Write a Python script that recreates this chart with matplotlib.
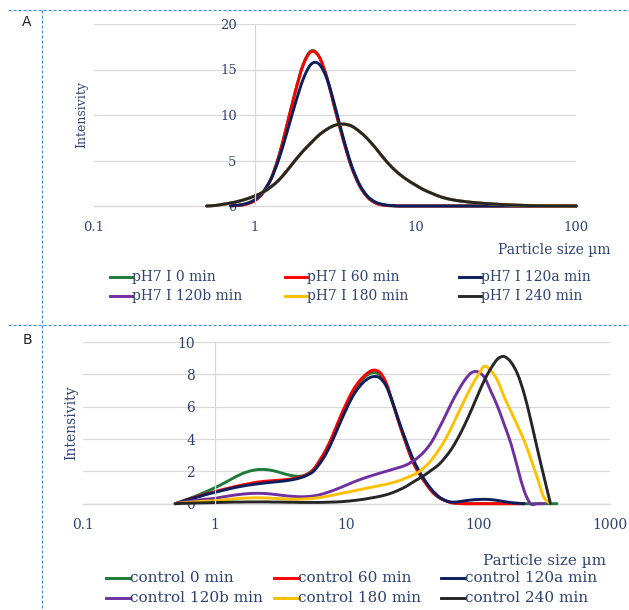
import numpy as np
import matplotlib.pyplot as plt
from matplotlib.lines import Line2D
from matplotlib.path import Path
from matplotlib.patches import PathPatch

plt.rcParams['font.family'] = ['DejaVu Serif']

nan = np.nan

# ---- panel A: pH7 I ----
# particle size bins (µm)
size_a = [0.501, 0.562, 0.631, 0.708, 0.794, 0.891, 1.00, 1.12, 1.26, 1.41,
          1.58, 1.78, 2.00, 2.24, 2.51, 2.82, 3.16, 3.55, 3.98, 4.47,
          5.01, 5.62, 6.31, 7.08, 7.94, 8.91, 10.0, 11.2, 12.6, 14.1,
          15.8, 17.8, 20.0, 22.4, 25.1, 28.2, 31.6, 35.5, 39.8, 44.7,
          50.1, 56.2, 63.1, 70.8, 79.4, 89.1, 100]

ph7_0 = [nan, nan, nan, 0.02, 0.07, 0.23, 0.6, 1.43, 3.0, 5.48,
         8.83, 12.5, 15.58, 17.05, 16.45, 14.0, 10.55, 7.25, 4.35, 2.25,
         0.98, 0.34, 0.1, 0.03, 0, 0, 0, 0, 0, 0,
         0, 0, 0, 0, 0, 0, 0, 0, 0, 0,
         0, 0, 0, 0, 0, 0, 0]
ph7_60 = [nan, nan, nan, 0.02, 0.07, 0.22, 0.59, 1.41, 2.96, 5.43,
          8.77, 12.43, 15.49, 16.96, 16.4, 14.0, 10.6, 7.3, 4.4, 2.3,
          1.0, 0.35, 0.1, 0.03, 0, 0, 0, 0, 0, 0,
          0, 0, 0, 0, 0, 0, 0, 0, 0, 0,
          0, 0, 0, 0, 0, 0, 0]
ph7_120a = [nan, nan, nan, 0.03, 0.1, 0.29, 0.69, 1.51, 2.94, 5.13,
            8.0, 11.17, 13.94, 15.58, 15.6, 13.9, 10.9, 7.5, 4.55, 2.4,
            1.1, 0.44, 0.16, 0.05, 0, 0, 0, 0, 0, 0,
            0, 0, 0, 0, 0, 0, 0, 0, 0, 0,
            0, 0, 0, 0, 0, 0, 0]
ph7_120b = [0.0, 0.05, 0.18, 0.33, 0.52, 0.78, 1.1, 1.5, 2.1, 2.85,
            3.85, 5.0, 6.05, 6.95, 7.8, 8.45, 8.88, 9.0, 8.8, 8.2,
            7.4, 6.4, 5.3, 4.3, 3.5, 2.85, 2.3, 1.8, 1.4, 1.05,
            0.8, 0.62, 0.5, 0.4, 0.32, 0.26, 0.2, 0.15, 0.11, 0.08,
            0.05, 0.03, 0.02, 0.01, 0.01, 0.0, 0.0]
ph7_180 = list(ph7_120b)
ph7_240 = list(ph7_120b)

labels_a = ['pH7 I 0 min', 'pH7 I 60 min', 'pH7 I 120a min',
            'pH7 I 120b min', 'pH7 I 180 min', 'pH7 I 240 min']

# ---- panel B: control ----
size_b = [0.501, 0.562, 0.631, 0.708, 0.794, 0.891, 1.00, 1.12, 1.26, 1.41,
          1.58, 1.78, 2.00, 2.24, 2.51, 2.82, 3.16, 3.55, 3.98, 4.47,
          5.01, 5.62, 6.31, 7.08, 7.94, 8.91, 10.0, 11.2, 12.6, 14.1,
          15.8, 17.8, 20.0, 22.4, 25.1, 28.2, 31.6, 35.5, 39.8, 44.7,
          50.1, 56.2, 63.1, 70.8, 79.4, 89.1, 100, 112, 126, 141,
          158, 178, 200, 224, 251, 282, 316, 355, 398, 447]

control_0 = [0, 0.15, 0.3, 0.45, 0.62, 0.8, 0.98, 1.18, 1.4, 1.62,
             1.82, 1.98, 2.08, 2.12, 2.1, 2.03, 1.92, 1.8, 1.72, 1.7,
             1.82, 2.12, 2.7, 3.4, 4.25, 5.2, 6.1, 6.9, 7.5, 7.9,
             8.1, 8.0, 7.4, 6.25, 5.0, 3.8, 2.7, 1.9, 1.3, 0.75,
             0.4, 0.2, 0.06, 0.02, 0, 0, 0, 0, 0, 0,
             0, 0, 0, 0, 0, 0, 0, 0, 0, nan]
control_60 = [0, 0.13, 0.27, 0.4, 0.52, 0.63, 0.74, 0.85, 0.95, 1.05,
              1.14, 1.22, 1.3, 1.36, 1.4, 1.43, 1.46, 1.5, 1.56, 1.65,
              1.8, 2.1, 2.7, 3.4, 4.3, 5.3, 6.2, 7.0, 7.6, 8.0,
              8.25, 8.15, 7.5, 6.3, 5.0, 3.8, 2.7, 1.9, 1.3, 0.75,
              0.4, 0.2, 0.06, 0.02, 0, 0, 0, 0, 0, 0,
              0, 0, 0, 0, nan, nan, nan, nan, nan, nan]
control_120a = [0, 0.12, 0.25, 0.37, 0.48, 0.6, 0.7, 0.8, 0.9, 0.99,
                1.07, 1.14, 1.2, 1.25, 1.3, 1.34, 1.38, 1.43, 1.5, 1.6,
                1.75, 2.0, 2.5, 3.15, 4.0, 4.95, 5.85, 6.65, 7.25, 7.65,
                7.85, 7.8, 7.3, 6.3, 5.1, 3.95, 2.9, 2.05, 1.4, 0.85,
                0.45, 0.2, 0.1, 0.12, 0.18, 0.23, 0.26, 0.27, 0.25, 0.2,
                0.13, 0.07, 0.03, 0.0, nan, nan, nan, nan, nan, nan]
control_120b = [0, 0.08, 0.15, 0.2, 0.25, 0.29, 0.33, 0.4, 0.47, 0.53,
                0.58, 0.62, 0.64, 0.64, 0.62, 0.58, 0.53, 0.48, 0.45, 0.43,
                0.44, 0.48, 0.56, 0.68, 0.82, 0.98, 1.15, 1.32, 1.48, 1.62,
                1.75, 1.88, 2.0, 2.12, 2.24, 2.38, 2.6, 2.9, 3.3, 3.85,
                4.6, 5.4, 6.25, 7.0, 7.65, 8.1, 8.15, 7.8, 6.9, 6.0,
                4.9, 3.7, 2.2, 0.8, 0.0, 0.0, 0.0, nan, nan, nan]
control_180 = [0, 0.05, 0.08, 0.11, 0.14, 0.16, 0.18, 0.22, 0.26, 0.3,
               0.33, 0.35, 0.36, 0.36, 0.35, 0.33, 0.31, 0.29, 0.28, 0.28,
               0.3, 0.33, 0.38, 0.45, 0.53, 0.62, 0.7, 0.78, 0.87, 0.95,
               1.03, 1.12, 1.2, 1.3, 1.42, 1.58, 1.75, 1.97, 2.3, 2.75,
               3.3, 3.95, 4.75, 5.6, 6.45, 7.25, 7.95, 8.5, 8.2, 7.6,
               6.6, 5.7, 4.8, 3.9, 2.8, 1.6, 0.4, 0.0, nan, nan]
control_240 = [0, 0.02, 0.03, 0.04, 0.05, 0.06, 0.07, 0.08, 0.09, 0.1,
               0.1, 0.11, 0.11, 0.11, 0.11, 0.1, 0.1, 0.09, 0.09, 0.08,
               0.08, 0.08, 0.08, 0.09, 0.1, 0.12, 0.15, 0.19, 0.24, 0.3,
               0.37, 0.45, 0.55, 0.68, 0.85, 1.05, 1.3, 1.55, 1.8, 2.1,
               2.4, 2.85, 3.4, 4.1, 4.9, 5.8, 6.75, 7.65, 8.4, 8.95,
               9.1, 8.75, 8.0, 6.8, 5.2, 3.4, 1.7, 0.0, nan, nan]

labels_b = ['control 0 min', 'control 60 min', 'control 120a min',
            'control 120b min', 'control 180 min', 'control 240 min']

colors = ['#1E7A3A', '#FF0000', '#0B1F5C', '#7030A0', '#FFC000', '#262626']
text_color = '#2F4373'
grid_color = '#D9D9D9'

W, H = 629, 610
fig = plt.figure(figsize=(W / 100, H / 100), dpi=100)


def px(x, y):
    return x / W, 1 - y / H


def smooth_line(ax, xs, ys, color, lw=2.1):
    # Excel-style smoothed line: Catmull-Rom bezier in (log x, y) space
    u = np.log10(np.asarray(xs, float))
    y = np.asarray(ys, float)
    ok = ~np.isnan(y)
    pts = np.column_stack([u[ok], y[ok]])
    n = len(pts)
    verts = [pts[0]]
    codes = [Path.MOVETO]
    for i in range(n - 1):
        p0 = pts[i - 1] if i > 0 else pts[i]
        p1, p2 = pts[i], pts[i + 1]
        p3 = pts[i + 2] if i + 2 < n else pts[i + 1]
        verts += [p1 + (p2 - p0) / 6, p2 - (p3 - p1) / 6, p2]
        codes += [Path.CURVE4] * 3
    verts = np.array(verts)
    verts[:, 0] = 10 ** verts[:, 0]
    ax.add_patch(PathPatch(Path(verts, codes), fill=False, edgecolor=color,
                           lw=lw, clip_on=False, capstyle='round',
                           joinstyle='round'))


def setup_axis(ax, xmax, ymax, ystep, fs, ypad, xpad):
    ax.set_xscale('log')
    ax.set_xlim(0.1, xmax)
    ax.set_ylim(0, ymax)
    xt = [0.1, 1, 10, 100, 1000]
    xt = [v for v in xt if v <= xmax]
    ax.set_xticks(xt)
    ax.set_xticklabels(['%g' % v for v in xt])
    ax.xaxis.set_minor_locator(plt.NullLocator())
    ax.set_yticks(np.arange(0, ymax + 0.1, ystep))
    for s in ['top', 'right', 'bottom']:
        ax.spines[s].set_visible(False)
    ax.spines['left'].set_position(('data', 1))
    ax.spines['left'].set_color(grid_color)
    ax.spines['left'].set_linewidth(0.9)
    ax.grid(axis='y', color=grid_color, lw=0.9)
    ax.axhline(0, color=grid_color, lw=1.0, clip_on=False, zorder=0.5)
    ax.set_axisbelow(True)
    ax.tick_params(axis='both', length=0, colors=text_color, labelsize=fs)
    ax.tick_params(axis='y', pad=ypad)
    ax.tick_params(axis='x', pad=xpad)


def draw_legend(labels, xs, ys, line_len, fs):
    for i, lab in enumerate(labels):
        x0 = xs[i % 3]
        y0 = ys[i // 3]
        (ax0, ay0) = px(x0, y0)
        (ax1, _) = px(x0 + line_len, y0)
        fig.add_artist(Line2D([ax0, ax1], [ay0, ay0], color=colors[i], lw=2.1,
                              transform=fig.transFigure))
        fig.text(ax1, ay0, lab, color=text_color, fontsize=fs,
                 ha='left', va='center')


# panel A
l, b = px(94, 206)
r, t = px(576.4, 24)
ax_a = fig.add_axes([l, b, r - l, t - b])
setup_axis(ax_a, 100, 20, 5, 9.5, 13, 11)
for vals, c in zip([ph7_0, ph7_60, ph7_120a, ph7_120b, ph7_180, ph7_240], colors):
    smooth_line(ax_a, size_a, vals, c)

# panel B
l, b = px(83, 503.7)
r, t = px(609.7, 342)
ax_b = fig.add_axes([l, b, r - l, t - b])
setup_axis(ax_b, 1000, 10, 2, 10, 14, 10)
for vals, c in zip([control_0, control_60, control_120a, control_120b,
                    control_180, control_240], colors):
    smooth_line(ax_b, size_b, vals, c)

# axis titles
fig.text(*px(82, 115), 'Intensivity', rotation=90, color=text_color,
         fontsize=9, ha='center', va='center')
fig.text(*px(610, 250), 'Particle size µm', color=text_color,
         fontsize=10, ha='right', va='center')
fig.text(*px(71, 423), 'Intensivity', rotation=90, color=text_color,
         fontsize=10, ha='center', va='center')
fig.text(*px(606, 561), 'Particle size µm', color=text_color,
         fontsize=11, ha='right', va='center')

draw_legend(labels_a, [110, 285, 459], [276.5, 296], 22, 10)
draw_legend(labels_b, [105.5, 274, 441], [578, 598], 24.5, 11)

# dashed panel frame
frame = dict(color='#4A90E2', lw=0.9, ls=(0, (2.5, 1.5)), transform=fig.transFigure)
fig.add_artist(Line2D([8 / W, 1], [1 - 10 / H, 1 - 10 / H], **frame))
fig.add_artist(Line2D([8 / W, 1], [1 - 325 / H, 1 - 325 / H], **frame))
fig.add_artist(Line2D([42.3 / W, 42.3 / W], [1 - 10 / H, 0], **frame))

fig.text(*px(27, 22), 'A', family='DejaVu Sans', fontsize=10, color='#222222',
         ha='center', va='center')
fig.text(*px(27, 340), 'B', family='DejaVu Sans', fontsize=10, color='#222222',
         ha='center', va='center')

fig.savefig('out.png', dpi=100)
